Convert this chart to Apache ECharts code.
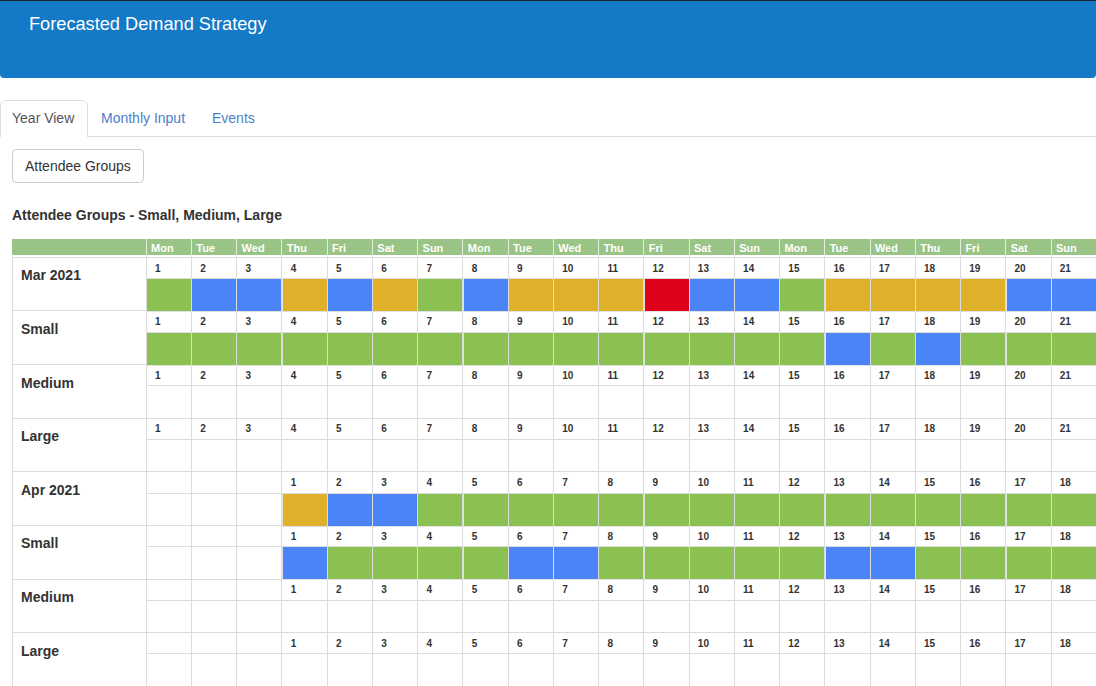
<!DOCTYPE html>
<html>
<head>
<meta charset="utf-8">
<title>Forecasted Demand Strategy</title>
<script src="https://cdn.jsdelivr.net/npm/echarts@6/dist/echarts.min.js"></script>
<style>
    html, body { margin: 0; padding: 0; background: #fff; }
    #main { width: 1096px; height: 686px; }
</style>
</head>
<body>
<div id="main"></div>
<script>
// column headers (3 weeks shown)
var dayNames = ['Mon', 'Tue', 'Wed', 'Thu', 'Fri', 'Sat', 'Sun',
                'Mon', 'Tue', 'Wed', 'Thu', 'Fri', 'Sat', 'Sun',
                'Mon', 'Tue', 'Wed', 'Thu', 'Fri', 'Sat', 'Sun'];
var rowLabels = ['Mar 2021', 'Small', 'Medium', 'Large', 'Apr 2021', 'Small', 'Medium', 'Large'];

// day numbers per column
var marDays = [1, 2, 3, 4, 5, 6, 7, 8, 9, 10, 11, 12, 13, 14, 15, 16, 17, 18, 19, 20, 21];
var aprDays = ['', '', '', 1, 2, 3, 4, 5, 6, 7, 8, 9, 10, 11, 12, 13, 14, 15, 16, 17, 18];

// status per column: G green, B blue, Y yellow, R red, '' none
var marTotal = ['G', 'B', 'B', 'Y', 'B', 'Y', 'G', 'B', 'Y', 'Y', 'Y', 'R', 'B', 'B', 'G', 'Y', 'Y', 'Y', 'Y', 'B', 'B'];
var marSmall = ['G', 'G', 'G', 'G', 'G', 'G', 'G', 'G', 'G', 'G', 'G', 'G', 'G', 'G', 'G', 'B', 'G', 'B', 'G', 'G', 'G'];
var aprTotal = ['', '', '', 'Y', 'B', 'B', 'G', 'G', 'G', 'G', 'G', 'G', 'G', 'G', 'G', 'G', 'G', 'G', 'G', 'G', 'G'];
var aprSmall = ['', '', '', 'B', 'G', 'G', 'G', 'G', 'B', 'B', 'G', 'G', 'G', 'G', 'G', 'B', 'B', 'G', 'G', 'G', 'G'];

var statusColor = {G: '#8bc152', B: '#4a84f6', Y: '#dfb12a', R: '#df0019'};
var font = '"Liberation Sans", Arial, Helvetica, sans-serif';

var rowDays = [marDays, marDays, marDays, marDays, aprDays, aprDays, aprDays, aprDays];
var rowStatus = [marTotal, marSmall, null, null, aprTotal, aprSmall, null, null];

var cells = [];
for (var r = 0; r < rowLabels.length; r++) {
    for (var c = 0; c < dayNames.length; c++) {
        cells.push([c, r, rowDays[r][c], rowStatus[r] ? rowStatus[r][c] : '']);
    }
}

function renderCell(params, api) {
    var pt = api.coord([api.value(0), api.value(1)]);
    var sz = api.size([1, 1]);
    var x0 = pt[0] - sz[0] / 2, y0 = pt[1] - sz[1] / 2;
    var w = sz[0], h = sz[1];
    var numH = 21;
    var ySep = Math.round(y0 + numH) + 0.5;
    var item = cells[params.dataIndex];
    var children = [];
    if (item[3]) {
        children.push({
            type: 'rect',
            shape: {x: Math.round(x0) + 0.5, y: ySep, width: Math.round(w), height: Math.round(h - numH)},
            style: {fill: statusColor[item[3]], stroke: '#e2e2e2', lineWidth: 1}
        });
    }
    children.push({
        type: 'line',
        shape: {x1: x0, y1: ySep, x2: x0 + w, y2: ySep},
        style: {stroke: '#dcdcdc', lineWidth: 1}
    });
    if (item[2] !== '') {
        children.push({
            type: 'text',
            style: {
                text: String(item[2]), x: x0 + 9, y: y0 + numH / 2 + 0.5,
                verticalAlign: 'middle', align: 'left',
                font: 'bold 10px ' + font, fill: '#333'
            }
        });
    }
    return {type: 'group', children: children};
}

var myChart = echarts.init(document.getElementById('main'), null, {renderer: 'svg'});

var option = {
    animation: false,
    backgroundColor: '#fff',
    graphic: [
        // page header
        {type: 'rect', z: -10, shape: {x: 0, y: 0, width: 1096, height: 78, r: [0, 0, 4, 4]}, style: {fill: '#1479c6'}},
        {type: 'rect', z: -9, shape: {x: 0, y: 0, width: 1096, height: 1}, style: {fill: '#1b2530'}},
        {type: 'text', z: 5, style: {text: 'Forecasted Demand Strategy', x: 29, y: 24, verticalAlign: 'middle',
            font: '18.2px ' + font, fill: '#fff'}},
        // tabs
        {type: 'line', z: -5, shape: {x1: 87, y1: 136.5, x2: 1096, y2: 136.5}, style: {stroke: '#dddddd', lineWidth: 1}},
        {type: 'polyline', z: -5, shape: {points: [[0.5, 137], [0.5, 104], [4.5, 100.5], [83.5, 100.5], [87.5, 104], [87.5, 137]]},
            style: {stroke: '#dddddd', lineWidth: 1, fill: 'none'}},
        {type: 'text', z: 5, style: {text: 'Year View', x: 12, y: 118, verticalAlign: 'middle', font: '14px ' + font, fill: '#555'}},
        {type: 'text', z: 5, style: {text: 'Monthly Input', x: 101, y: 118, verticalAlign: 'middle', font: '14px ' + font, fill: '#4a80c8'}},
        {type: 'text', z: 5, style: {text: 'Events', x: 212, y: 118, verticalAlign: 'middle', font: '14px ' + font, fill: '#4a80c8'}},
        // button
        {type: 'rect', z: -5, shape: {x: 12.5, y: 149.5, width: 131, height: 33, r: 4},
            style: {fill: '#fff', stroke: '#cccccc', lineWidth: 1}},
        {type: 'text', z: 5, style: {text: 'Attendee Groups', x: 25, y: 166, verticalAlign: 'middle', font: '14px ' + font, fill: '#333'}},
        // heading
        {type: 'text', z: 5, style: {text: 'Attendee Groups - Small, Medium, Large', x: 12, y: 215, verticalAlign: 'middle',
            font: 'bold 14px ' + font, fill: '#333'}},
        // table header band
        {type: 'rect', z: -10, shape: {x: 12, y: 239, width: 1084, height: 16}, style: {fill: '#99c485'}}
    ],
    grid: [
        {left: 12, top: 257, width: 134, height: 432},
        {left: 146, top: 257, width: 951, height: 432}
    ],
    xAxis: [
        {
            gridIndex: 0, type: 'category', data: [''], show: false
        },
        {
            gridIndex: 1, type: 'category', data: dayNames, position: 'top', z: 3,
            axisLine: {show: false},
            axisTick: {show: true, interval: 0, length: 18, lineStyle: {color: '#e4eedd', width: 1}},
            axisLabel: {
                interval: 0, margin: 4,
                formatter: function (v) { return '{d|' + v + '}'; },
                rich: {d: {width: 35, align: 'left', color: '#fff', fontWeight: 'bold', fontSize: 11, fontFamily: font}}
            },
            splitLine: {show: true, interval: 0, lineStyle: {color: '#dcdcdc', width: 1}}
        }
    ],
    yAxis: [
        {
            gridIndex: 0, type: 'category', data: rowLabels, inverse: true,
            axisLine: {show: true, lineStyle: {color: '#dcdcdc', width: 1}},
            axisTick: {show: false},
            axisLabel: {
                inside: true, margin: 9, interval: 0, verticalAlign: 'bottom', lineHeight: 17,
                color: '#333', fontWeight: 'bold', fontSize: 14, fontFamily: font
            },
            splitLine: {show: true, interval: 0, lineStyle: {color: '#dcdcdc', width: 1}}
        },
        {
            gridIndex: 1, type: 'category', data: rowLabels, inverse: true,
            axisLine: {show: false}, axisTick: {show: false}, axisLabel: {show: false},
            splitLine: {show: true, interval: 0, lineStyle: {color: '#dcdcdc', width: 1}}
        }
    ],
    series: [
        {
            type: 'custom',
            xAxisIndex: 1,
            yAxisIndex: 1,
            renderItem: renderCell,
            encode: {x: 0, y: 1},
            clip: false,
            data: cells
        }
    ]
};

myChart.setOption(option);
</script>
</body>
</html>
